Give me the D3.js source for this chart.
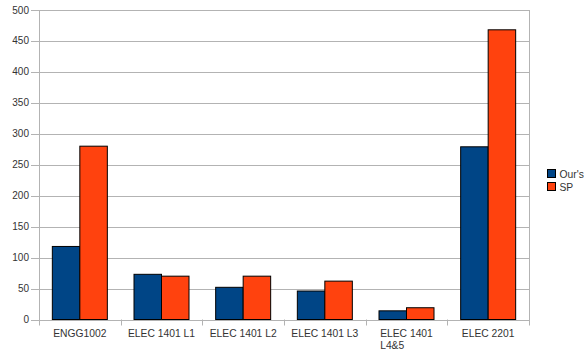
<!DOCTYPE html>
<html>
<head>
<meta charset="utf-8">
<script src="https://cdn.jsdelivr.net/npm/d3@7"></script>
<style>
  html, body { margin: 0; padding: 0; background: #fff; }
  svg { display: block; font-family: "Liberation Sans", Arial, sans-serif; }
</style>
</head>
<body>
<svg id="chart" width="584" height="351"></svg>
<script>
// Course names (second entry in a pair is drawn on a second line)
const categories = [["ENGG1002"], ["ELEC 1401 L1"], ["ELEC 1401 L2"], ["ELEC 1401 L3"], ["ELEC 1401", "L4&5"], ["ELEC 2201"]];
const seriesNames = ["Our's", "SP"];
const oursValues = [118, 73, 52, 46, 14, 279];
const spValues = [280, 70, 70, 62, 19, 468];
const yTicks = [0, 50, 100, 150, 200, 250, 300, 350, 400, 450, 500];
const colors = ["#004586", "#ff420e"];

const svg = d3.select("#chart");
const plotLeft = 39, plotRight = 529, plotTop = 10, plotBottom = 319.5;
const textColor = "#333";
const gridColor = "#b3b3b3";

const x = d3.scaleBand().domain(d3.range(categories.length)).range([plotLeft, plotRight]).paddingInner(0).paddingOuter(0);
const y = d3.scaleLinear().domain([0, 500]).range([plotBottom, plotTop]);
const barW = 27.5;

// horizontal gridlines with outer tick stubs
svg.append("g").selectAll("line").data(yTicks).join("line")
  .attr("x1", plotLeft - 8).attr("x2", plotRight)
  .attr("y1", d => Math.round(y(d)) + 0.5).attr("y2", d => Math.round(y(d)) + 0.5)
  .attr("stroke", gridColor).attr("stroke-width", 1);

// y tick labels
svg.append("g").selectAll("text").data(yTicks).join("text")
  .attr("x", plotLeft - 10).attr("y", d => y(d) + 3.5)
  .attr("text-anchor", "end").attr("font-size", "10px").attr("fill", textColor)
  .text(d => d);

// left axis and right border
svg.append("line").attr("x1", plotLeft + 0.5).attr("x2", plotLeft + 0.5).attr("y1", plotTop).attr("y2", plotBottom + 6)
  .attr("stroke", gridColor);
svg.append("line").attr("x1", plotRight + 0.5).attr("x2", plotRight + 0.5).attr("y1", plotTop).attr("y2", plotBottom + 6)
  .attr("stroke", gridColor);

// category boundary ticks
svg.append("g").selectAll("line").data(d3.range(1, categories.length)).join("line")
  .attr("x1", d => Math.round(x(d)) + 0.5).attr("x2", d => Math.round(x(d)) + 0.5)
  .attr("y1", plotBottom).attr("y2", plotBottom + 6)
  .attr("stroke", gridColor);

// bars
const series = [oursValues, spValues];
series.forEach((vals, si) => {
  svg.append("g").selectAll("rect").data(vals).join("rect")
    .attr("x", (d, i) => x(i) + x.bandwidth() / 2 - barW + si * barW)
    .attr("y", d => y(d))
    .attr("width", barW)
    .attr("height", d => y(0) - y(d))
    .attr("fill", colors[si])
    .attr("stroke", "#000").attr("stroke-width", 1);
});

// category labels
const lab = svg.append("g").selectAll("text").data(categories).join("text")
  .attr("font-size", "10.3px").attr("fill", textColor)
  .attr("y", plotBottom + 17);
lab.each(function(d, i) {
  const t = d3.select(this);
  const cx = x(i) + x.bandwidth() / 2;
  if (d.length === 1) {
    t.attr("x", cx).attr("text-anchor", "middle").text(d[0]);
  } else {
    t.append("tspan").text(d[0]);
    const w = this.getComputedTextLength();
    const lx = cx - w / 2;
    t.select("tspan").attr("x", lx);
    t.append("tspan").attr("x", lx).attr("dy", 12).text(d[1]);
  }
});

// legend
const leg = svg.append("g").selectAll("g").data(seriesNames).join("g")
  .attr("transform", (d, i) => `translate(547.5, ${169.5 + i * 13})`);
leg.append("rect").attr("width", 8).attr("height", 8)
  .attr("fill", (d, i) => colors[i]).attr("stroke", "#000").attr("stroke-width", 1);
leg.append("text").attr("x", 12).attr("y", 8).attr("font-size", "10.3px").attr("fill", textColor)
  .text(d => d);
</script>
</body>
</html>
